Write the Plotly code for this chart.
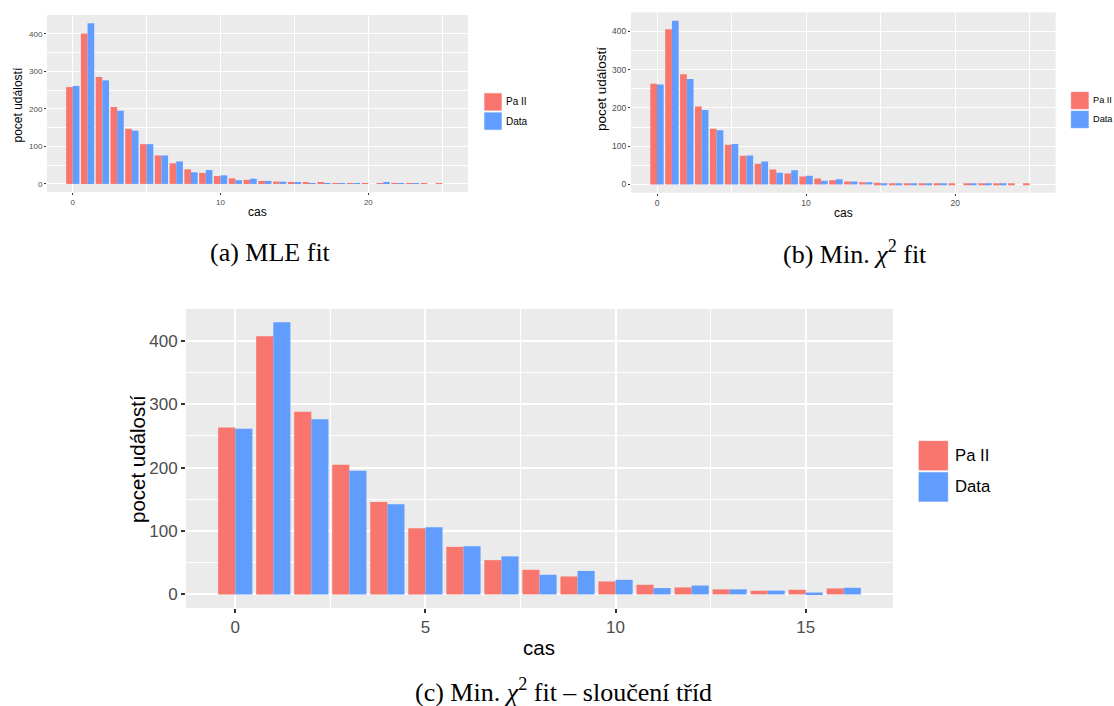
import plotly.graph_objects as go

W, H = 1114, 706

# ---- data -------------------------------------------------------------
classes_full = list(range(26))
data_counts = [261, 428, 276, 195, 142, 106, 76, 60, 31, 37, 23, 10, 14, 8, 6,
               3, 2, 1, 1, 1, 0, 3, 1, 1, 0, 0]
pa2_mle = [258, 401, 285, 205, 147, 106, 76, 55, 39, 29.5, 21, 15, 11, 8, 6.3,
           4.6, 3.4, 2.6, 2.0, 1.5, 1.2, 0.9, 0.7, 0.5, 0.4, 0.3]
pa2_chi = [263, 406, 288, 204, 146, 104, 75, 54, 39, 29, 21, 15.5, 11, 8, 6,
           4.5, 3.5, 2.8, 2.2, 1.8, 1.5, 1.2, 1.0, 0.8, 0.7, 0.6]

classes_merged = list(range(17))
pa2_merged = [263, 407, 288, 204.5, 145.7, 104.3, 75, 54, 38.8, 28.3, 20.4,
              15.2, 11, 7.9, 5.8, 7.3, 9.4]
data_merged = [261, 429, 276, 195, 142, 106, 76, 60, 31, 37, 23, 10, 14, 8, 6,
               3, 10.5]

series_names = ["Pa II", "Data"]
series_colors = ["#F8766D", "#619CFF"]
y_label = "pocet událostí"
x_label = "cas"
captions = ["(a) MLE fit", "(b) Min. <i>χ</i><sup>2</sup> fit",
            "(c) Min. <i>χ</i><sup>2</sup> fit – sloučení tříd"]

SANS = "Liberation Sans"
SERIF = "Liberation Serif"


def fx(p):
    return p / W


def fy(p):
    return 1 - p / H


fig = go.Figure()

panels = [
    dict(ax="", x=classes_full, pa=pa2_mle, dat=data_counts,
         box=(47, 15, 468, 192), xr=[-1.745, 26.745], dt=10, tick=8,
         gw=1.0, mgw=0.5, tl=2),
    dict(ax="2", x=classes_full, pa=pa2_chi, dat=data_counts,
         box=(631, 12.3, 1055.7, 192.7), xr=[-1.745, 26.745], dt=10, tick=8.5,
         gw=1.0, mgw=0.5, tl=2),
    dict(ax="3", x=classes_merged, pa=pa2_merged, dat=data_merged,
         box=(186, 309, 893, 608), xr=[-1.295, 17.295], dt=5, tick=17,
         gw=2.0, mgw=1.0, tl=4),
]

layout = dict(
    width=W, height=H, margin=dict(l=0, r=0, t=0, b=0),
    paper_bgcolor="white", plot_bgcolor="#EBEBEB",
    barmode="group", bargap=0.1, bargroupgap=0.0,
    showlegend=False, font=dict(family=SANS),
)

for p in panels:
    xa = "x" + p["ax"]
    ya = "y" + p["ax"]
    for name, color, vals in zip(series_names, series_colors, [p["pa"], p["dat"]]):
        fig.add_trace(go.Bar(x=p["x"], y=vals, name=name, marker_color=color,
                             marker_line_width=0, xaxis=xa, yaxis=ya))
    l, t, r, b = p["box"]
    common = dict(showgrid=True, gridcolor="white", gridwidth=p["gw"],
                  zeroline=False, showline=False, ticks="outside",
                  ticklen=p["tl"], tickcolor="#333333", tickwidth=max(1, p["gw"]),
                  tickfont=dict(family=SANS, size=p["tick"], color="#4D4D4D"),
                  fixedrange=True)
    layout["xaxis" + p["ax"]] = dict(
        common, domain=[fx(l), fx(r)], range=p["xr"], tick0=0, dtick=p["dt"],
        anchor=ya,
        minor=dict(dtick=p["dt"] / 2, tick0=0, showgrid=True, gridcolor="white",
                   gridwidth=p["mgw"], ticks=""))
    layout["yaxis" + p["ax"]] = dict(
        common, domain=[fy(b), fy(t)], range=[-21.43, 450.0], tick0=0, dtick=100,
        anchor=xa,
        minor=dict(dtick=50, tick0=0, showgrid=True, gridcolor="white",
                   gridwidth=p["mgw"], ticks=""))

fig.update_layout(**layout)

annotations = []
shapes = []


def text(x, y, s, size, family=SANS, angle=0, xanchor="center", color="black"):
    annotations.append(dict(x=fx(x), y=fy(y), xref="paper", yref="paper",
                            text=s, showarrow=False, textangle=angle,
                            xanchor=xanchor, yanchor="middle", borderpad=0,
                            font=dict(family=family, size=size, color=color)))


# axis titles
text(17.5, 105, y_label, 12, angle=-90)
text(257, 212, x_label, 12)
text(601, 89, y_label, 13.5, angle=-90)
text(843, 213, x_label, 12)
text(137, 459, y_label, 20.5, angle=-90)
text(539, 647, x_label, 20.5)

# legends: (key left, key right, first key top, key height, label x, font size)
legends = [(484, 502, 92.3, 19.2, 505, 10),
           (1070.7, 1089, 91, 19, 1091.5, 9.2),
           (918.3, 948.3, 440, 31.3, 954, 16.7)]
for kl, kr, kt, kh, lx, fs in legends:
    for i, (name, color) in enumerate(zip(series_names, series_colors)):
        top = kt + i * kh
        shapes.append(dict(type="rect", xref="paper", yref="paper",
                           x0=fx(kl), x1=fx(kr), y0=fy(top + kh - 0.6), y1=fy(top + 0.6),
                           fillcolor=color, line=dict(color="rgba(255,255,255,0.6)", width=1)))
        text(lx, top + kh / 2, name, fs, xanchor="left")

# captions
text(270, 253, captions[0], 26, family=SERIF)
text(855, 253, captions[1], 26, family=SERIF)
text(563, 690, captions[2], 26, family=SERIF)

fig.update_layout(annotations=annotations, shapes=shapes)
fig.write_html("out.html")
